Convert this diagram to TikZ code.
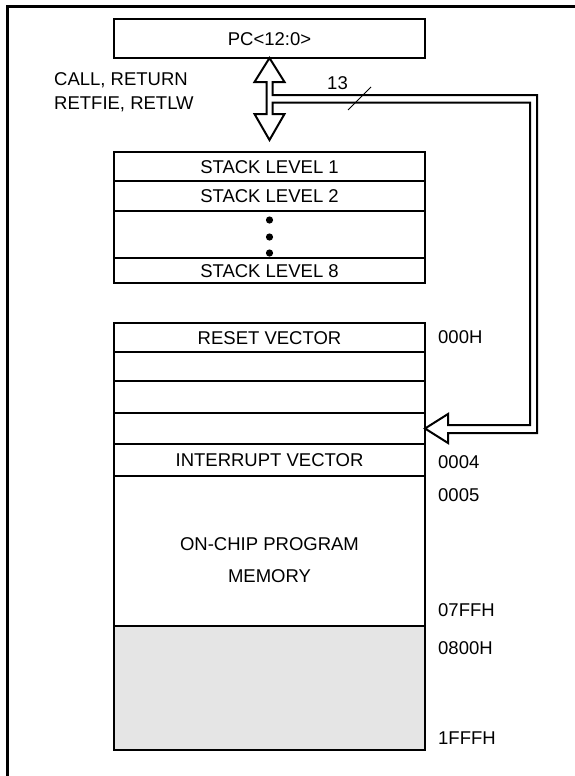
\documentclass[tikz,border=0pt]{standalone}
\usepackage{fontspec}
\setmainfont{Liberation Sans}
\usetikzlibrary{calc}
\begin{document}
\begin{tikzpicture}[x=1pt,y=-1pt,
  every node/.style={font=\fontsize{18.5}{24}\selectfont},
  box/.style={draw, line width=2.7pt, minimum width=311pt, inner sep=0pt, outer sep=0pt, text height=13.2pt, text depth=0pt},
  txt/.style={inner sep=0pt, text height=13.2pt, text depth=0pt},
  addr/.style={txt, anchor=west},
  bus/.style={draw, line width=2pt, line join=miter},
  frame/.style={line width=3pt}]
\useasboundingbox (0,0) rectangle (575,776);
\draw[frame] (7,780) -- (7,7) -- (580,7);
% program counter
\node[box, minimum height=39pt] (pc) at (269.5,38.5) {PC<12:0>};
% stack
\node[box, minimum height=29pt] (s1) at (269.5,166.5) {STACK LEVEL 1};
\node[box, minimum height=30pt] (s2) at (269.5,196) {STACK LEVEL 2};
\node[box, minimum height=47pt] (s3) at (269.5,234.5) {};
\node[box, minimum height=25pt] (s8) at (269.5,270.5) {STACK LEVEL 8};
\fill (269.5,220) circle (3.6pt);
\fill (269.5,237) circle (3.6pt);
\fill (269.5,253) circle (3.6pt);
% program memory
\node[box, minimum height=29pt] (m0) at (269.5,337.5) {RESET VECTOR};
\node[box, minimum height=29pt] (m1) at (269.5,366.5) {};
\node[box, minimum height=32pt] (m2) at (269.5,397) {};
\node[box, minimum height=31pt] (m3) at (269.5,428.5) {};
\node[box, minimum height=32pt] (m4) at (269.5,460) {INTERRUPT VECTOR};
\node[box, minimum height=150pt] (m5) at (269.5,551) {};
\node[box, minimum height=124pt, fill={rgb,255:red,229;green,229;blue,229}] (m6) at (269.5,688) {};
\node[txt] (t1) at (269.5,544) {ON-CHIP PROGRAM};
\node[txt] (t2) at (269.5,576) {MEMORY};
% addresses
\node[addr] (a0) at (438,337) {000H};
\node[addr] (a4) at (438,462) {0004};
\node[addr] (a5) at (438,495) {0005};
\node[addr] (a7) at (438,610) {07FFH};
\node[addr] (a8) at (438,648) {0800H};
\node[addr] (a1) at (438,738) {1FFFH};
% instruction labels
\node[addr] (c1) at (54,79) {CALL, RETURN};
\node[addr] (c2) at (54,103) {RETFIE, RETLW};
% bus arrows
\coordinate (T) at (pc.south);
\coordinate (A) at (m3.east);
\coordinate (J1) at ($(T)+(3,37)$);
\coordinate (J2) at ($(T)+(3,44.5)$);
\coordinate (O) at ($(A)+(112,4.5)$);
\coordinate (I) at ($(A)+(105,-3.5)$);
\draw[bus] (T) -- ++(15,24) -- ++(-12,0) -- (J1) -- (O |- J1) -- (O)
  -- ($(A)+(23,4.5)$) -- ($(A)+(23,14.5)$) -- (A) -- ($(A)+(23,-14.5)$)
  -- ($(A)+(23,-3.5)$) -- (I) -- (I |- J2) -- (J2)
  -- ($(T)+(3,56)$) -- ($(T)+(15,56)$) -- ($(T)+(0,82)$) -- ($(T)+(-15,56)$)
  -- ($(T)+(-3,56)$) -- ($(T)+(-3,24)$) -- ($(T)+(-15,24)$) -- cycle;
\node[txt] (n13) at (337.5,83) {13};
\draw[line width=1pt] (348,110) -- (371,87);
\end{tikzpicture}
\end{document}
